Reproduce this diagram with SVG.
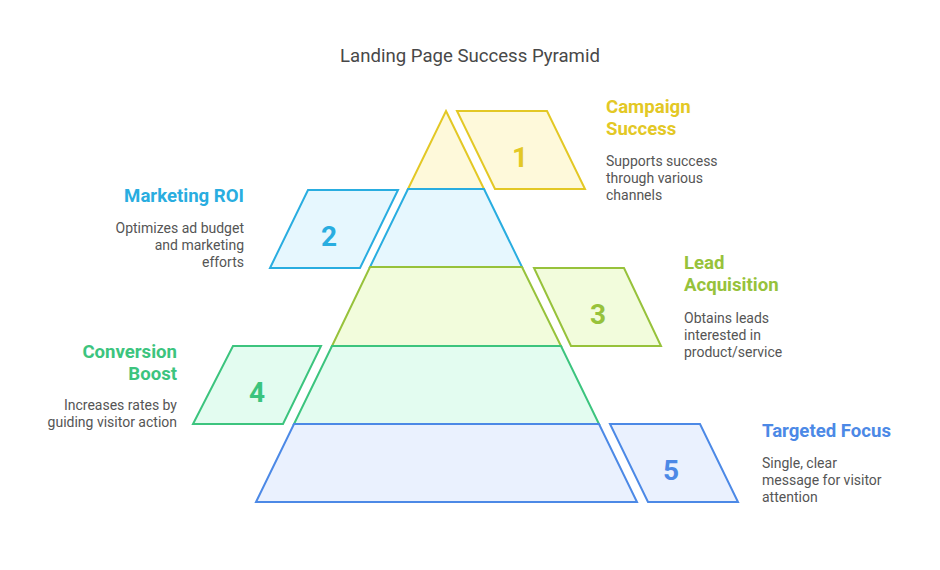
<svg xmlns="http://www.w3.org/2000/svg" width="940" height="570" viewBox="0 0 940 570">
<style>
text{font-family:Roboto,"Liberation Sans",sans-serif}
.title{font-size:18.6px;fill:#484848;text-anchor:middle}
.h{font-size:18.6px;font-weight:bold}
.d{font-size:14px;fill:#555555}
.n{font-size:28px;font-weight:bold;text-anchor:middle}
.r{text-anchor:end}
path{stroke-width:2;stroke-linejoin:miter}
.c1{stroke:#E3C825;fill:#FEF9DA}
.c2{stroke:#29ADE0;fill:#E6F7FE}
.c3{stroke:#97C23B;fill:#F2FCDC}
.c4{stroke:#3CC47E;fill:#E3FCF0}
.c5{stroke:#4C89E6;fill:#EAF1FE}
.t1{fill:#E3C825}.t2{fill:#29ADE0}.t3{fill:#97C23B}.t4{fill:#3CC47E}.t5{fill:#4C89E6}
</style>
<rect width="940" height="570" fill="#ffffff"/>
<text class="title" x="470" y="62">Landing Page Success Pyramid</text>
<g id="layer1">
<path class="c1" d="M446,111 L484,189 L408,189 Z"/>
<path class="c1" d="M457,111 L547,111 L585,189 L495,189 Z"/>
<text class="n t1" x="520" y="167">1</text>
<text class="h t1" x="606" y="113">Campaign</text>
<text class="h t1" x="606" y="135">Success</text>
<text class="d" x="606" y="166">Supports success</text>
<text class="d" x="606" y="183">through various</text>
<text class="d" x="606" y="200">channels</text>
</g>
<g id="layer2">
<path class="c2" d="M408,189 L484,189 L522,267 L370,267 Z"/>
<path class="c2" d="M308,190 L398,190 L360,268 L270,268 Z"/>
<text class="n t2" x="329" y="246">2</text>
<text class="h t2 r" x="244" y="202">Marketing ROI</text>
<text class="d r" x="244" y="233">Optimizes ad budget</text>
<text class="d r" x="244" y="250">and marketing</text>
<text class="d r" x="244" y="267">efforts</text>
</g>
<g id="layer3">
<path class="c3" d="M370,267 L522,267 L561,346 L332,346 Z"/>
<path class="c3" d="M534,268 L624,268 L661,346 L571,346 Z"/>
<text class="n t3" x="598" y="324">3</text>
<text class="h t3" x="684" y="269">Lead</text>
<text class="h t3" x="684" y="291">Acquisition</text>
<text class="d" x="684" y="323">Obtains leads</text>
<text class="d" x="684" y="340">interested in</text>
<text class="d" x="684" y="357">product/service</text>
</g>
<g id="layer4">
<path class="c4" d="M332,346 L561,346 L599,424 L294,424 Z"/>
<path class="c4" d="M233,346 L321,346 L283,424 L193,424 Z"/>
<text class="n t4" x="257" y="402">4</text>
<text class="h t4 r" x="177" y="358">Conversion</text>
<text class="h t4 r" x="177" y="380">Boost</text>
<text class="d r" x="177" y="410">Increases rates by</text>
<text class="d r" x="177" y="427">guiding visitor action</text>
</g>
<g id="layer5">
<path class="c5" d="M294,424 L599,424 L637,502 L256,502 Z"/>
<path class="c5" d="M610,424 L700,424 L738,502 L648,502 Z"/>
<text class="n t5" x="671" y="480">5</text>
<text class="h t5" x="762" y="437">Targeted Focus</text>
<text class="d" x="762" y="468">Single, clear</text>
<text class="d" x="762" y="485">message for visitor</text>
<text class="d" x="762" y="502">attention</text>
</g>
<g id="connectors"></g>
</svg>
